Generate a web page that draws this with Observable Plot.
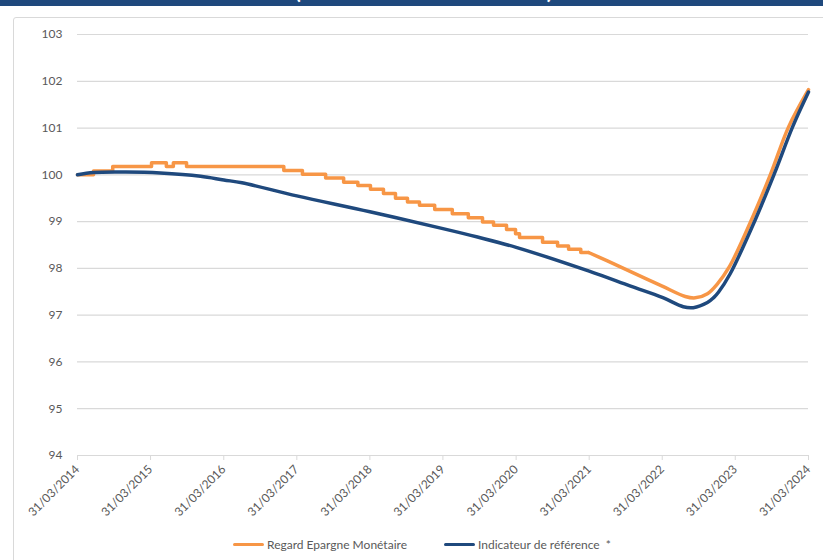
<!DOCTYPE html>
<html>
<head>
<meta charset="utf-8">
<script src="https://cdn.jsdelivr.net/npm/d3@7"></script>
<script src="https://cdn.jsdelivr.net/npm/@observablehq/plot@0.6"></script>
<style>
  html, body { margin: 0; padding: 0; background: #fff; }
  body { width: 823px; height: 560px; overflow: hidden; position: relative; font-family: Lato, "Open Sans", sans-serif; }
  #banner { position: absolute; left: 0; top: 0; width: 823px; height: 6px; overflow: hidden; background: #1f497d; }
  #banner span { position: absolute; left: 295px; bottom: 5px; color: #fff; font-weight: bold; font-size: 21px; line-height: 21px; white-space: nowrap; letter-spacing: 0.5px; }
  #box { position: absolute; left: 13px; top: 17px; width: 830px; height: 560px; border: 1px solid #d9d9d9; border-radius: 3px; background: #fff; }
  #chart { position: absolute; left: 0; top: 0; }
  #legend { position: absolute; top: 537px; left: 0; width: 823px; height: 16px; font-size: 12px; color: #595959; }
  .item { position: absolute; top: 0; display: flex; align-items: center; white-space: nowrap; }
  .swatch { width: 31px; height: 3.5px; margin-right: 3px; border-radius: 2px; }
</style>
</head>
<body>
<div id="banner"><span>(base 100 au 31/03/2014)</span></div>
<div id="box"></div>
<div id="chart"></div>
<div id="legend">
  <div class="item" style="left:233px"><div class="swatch" style="background:#f79646"></div>Regard Epargne Monétaire</div>
  <div class="item" style="left:444px"><div class="swatch" style="background:#1f497d"></div>Indicateur de référence&nbsp;&nbsp;*</div>
</div>
<script>
const parse = d3.utcParse("%Y-%m-%d");

const seriesNames = ["Regard Epargne Monétaire", "Indicateur de référence *"];

// Orange series: stepped part (repeated dates mark the steps)
const orangeStepDates = ["2014-03-31","2014-06-19","2014-06-19","2014-09-23","2014-09-23","2015-04-05","2015-04-05","2015-06-18","2015-06-18","2015-07-23","2015-07-23","2015-09-27","2015-09-27","2017-01-25","2017-01-25","2017-04-28","2017-04-28","2017-08-22","2017-08-22","2017-11-20","2017-11-20","2018-01-30","2018-01-30","2018-04-03","2018-04-03","2018-06-07","2018-06-07","2018-08-06","2018-08-06","2018-10-05","2018-10-05","2018-12-04","2018-12-04","2019-02-18","2019-02-18","2019-05-17","2019-05-17","2019-08-05","2019-08-05","2019-10-15","2019-10-15","2019-12-09","2019-12-09","2020-02-12","2020-02-12","2020-03-28","2020-03-28","2020-04-17","2020-04-17","2020-08-10","2020-08-10","2020-10-24","2020-10-24","2020-12-18","2020-12-18","2021-02-17","2021-02-17","2021-03-28"];
const orangeStepValues = [100.00,100.00,100.08,100.08,100.18,100.18,100.26,100.26,100.18,100.18,100.26,100.26,100.18,100.18,100.09,100.09,100.01,100.01,99.93,99.93,99.84,99.84,99.77,99.77,99.69,99.69,99.60,99.60,99.50,99.50,99.42,99.42,99.35,99.35,99.26,99.26,99.17,99.17,99.08,99.08,98.99,98.99,98.92,98.92,98.83,98.83,98.74,98.74,98.66,98.66,98.56,98.56,98.48,98.48,98.41,98.41,98.34,98.34];

// Orange series: smooth tail
const orangeTailDates = ["2021-03-28","2021-06-30","2021-10-24","2022-03-31","2022-07-24","2022-09-12","2022-11-12","2023-01-01","2023-03-01","2023-06-19","2023-09-24","2023-12-22","2024-03-31"];
const orangeTailValues = [98.34,98.16,97.93,97.62,97.40,97.37,97.46,97.67,98.03,99.03,100.02,101.02,101.82];

// Blue series
const blueDates = ["2014-03-31","2014-06-19","2014-11-27","2015-05-19","2015-12-06","2016-03-31","2016-06-30","2017-03-31","2018-03-31","2019-03-31","2019-09-20","2020-03-31","2021-03-31","2021-10-24","2022-03-31","2022-07-14","2022-09-02","2022-11-12","2022-12-12","2023-01-06","2023-03-05","2023-07-08","2023-10-12","2024-01-11","2024-03-31"];
const blueValues = [100.00,100.05,100.06,100.04,99.97,99.89,99.83,99.55,99.21,98.85,98.67,98.45,97.94,97.62,97.38,97.18,97.16,97.27,97.37,97.49,97.88,99.03,100.02,101.02,101.77];

const xTickLabels = ["31/03/2014","31/03/2015","31/03/2016","31/03/2017","31/03/2018","31/03/2019","31/03/2020","31/03/2021","31/03/2022","31/03/2023","31/03/2024"];
const yTicks = [94,95,96,97,98,99,100,101,102,103];

const parseFR = d3.utcParse("%d/%m/%Y");
const xTicks = xTickLabels.map(parseFR);
const toRows = (ds, vs) => ds.map((d, i) => ({date: parse(d), value: vs[i]}));
const orangeSteps = toRows(orangeStepDates, orangeStepValues);
const orangeTail = toRows(orangeTailDates, orangeTailValues);
const blue = toRows(blueDates, blueValues);

const chart = Plot.plot({
  width: 823,
  height: 520,
  marginLeft: 77,
  marginRight: 15,
  marginTop: 34,
  marginBottom: 65,
  x: {type: "utc", domain: [xTicks[0], xTicks[xTicks.length - 1]]},
  y: {domain: [94, 103]},
  style: {fontFamily: "Lato, sans-serif", fontSize: "12px", color: "#595959", background: "transparent", overflow: "visible"},
  marks: [
    Plot.ruleY(yTicks, {stroke: "#d9d9d9", strokeWidth: 1.2}),
    Plot.axisY({ticks: yTicks, tickSize: 0, tickPadding: 15, label: null, fontSize: 12}),
    Plot.axisX({ticks: xTicks, tickFormat: d3.utcFormat("%d/%m/%Y"), tickRotate: -45, tickSize: 5, stroke: "#d9d9d9", label: null, fontSize: 12}),
    Plot.line(orangeSteps, {x: "date", y: "value", stroke: "#f79646", strokeWidth: 3.5, strokeLinejoin: "round", strokeLinecap: "round"}),
    Plot.line(orangeTail, {x: "date", y: "value", stroke: "#f79646", strokeWidth: 3.5, curve: "catmull-rom", strokeLinecap: "round"}),
    Plot.line(blue, {x: "date", y: "value", stroke: "#1f497d", strokeWidth: 3.5, curve: "catmull-rom", strokeLinecap: "round"})
  ]
});
document.getElementById("chart").appendChild(chart);
</script>
</body>
</html>
